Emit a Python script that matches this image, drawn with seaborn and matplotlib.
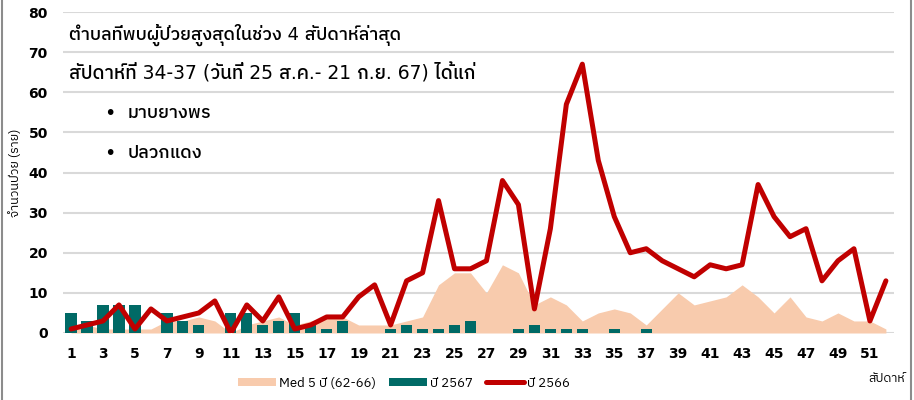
import numpy as np
import matplotlib
matplotlib.use("Agg")
import matplotlib.pyplot as plt
import seaborn as sns
from matplotlib import font_manager as fm
from matplotlib.ft2font import FT2Font
from matplotlib.patches import Patch
from matplotlib.lines import Line2D

# weekly data
weeks = list(range(1, 53))
med_5y = [1, 2, 1, 1, 1, 1, 3, 3, 4, 3, 0, 2, 3, 4, 2, 3, 4, 4, 2, 2,
          2, 3, 4, 12, 15, 15, 10, 17, 15, 7, 9, 7, 3, 5, 6, 5, 2, 6, 10, 7,
          8, 9, 12, 9, 5, 9, 4, 3, 5, 3, 3, 1]
weeks_2567 = list(range(1, 38))
cases_2567 = [5, 3, 7, 7, 7, 0, 5, 3, 2, 0, 5, 5, 2, 3, 5, 2, 1, 3, 0, 0,
              1, 2, 1, 1, 2, 3, 0, 0, 1, 2, 1, 1, 1, 0, 1, 0, 1]
cases_2566 = [1, 2, 3, 7, 1, 6, 3, 4, 5, 8, 0, 7, 3, 9, 1, 2, 4, 4, 9, 12,
              2, 13, 15, 33, 16, 16, 18, 38, 32, 6, 26, 57, 67, 43, 29, 20, 21, 18, 16, 14,
              17, 16, 17, 37, 29, 24, 26, 13, 18, 21, 3, 13]
xtick_weeks = list(range(1, 53, 2))

title_lines = ["ตำบลที่พบผู้ป่วยสูงสุดในช่วง 4 สัปดาห์ล่าสุด",
               "สัปดาห์ที่ 34-37 (วันที่ 25 ส.ค.- 21 ก.ย. 67) ได้แก่"]
places = ["มาบยางพร", "ปลวกแดง"]

PEACH = "#F8CBAD"
TEAL = "#006A66"
RED = "#C00000"


def find_thai_font():
    seen = set()
    found = []
    for f in fm.fontManager.ttflist:
        if f.fname in seen:
            continue
        seen.add(f.fname)
        try:
            cmap = FT2Font(f.fname).get_charmap()
        except Exception:
            continue
        if 0x0E01 in cmap:
            found.append(f.name)
    for name in found:
        if "Thai" in name and "Looped" not in name:
            return name
    return found[0] if found else None


sns.set_style("white")
thai = find_thai_font()
thai_fams = ([thai] if thai else []) + ["DejaVu Sans"]
mixed_fams = ["DejaVu Sans"] + ([thai] if thai else [])
plt.rcParams["font.family"] = thai_fams
plt.rcParams["text.color"] = "black"
plt.rcParams["axes.labelcolor"] = "black"
plt.rcParams["xtick.color"] = "black"
plt.rcParams["ytick.color"] = "black"

fig, ax = plt.subplots(figsize=(9.14, 4.0), dpi=100)
fig.subplots_adjust(left=0.069, right=0.978, top=0.97, bottom=0.1675)

ax.fill_between(weeks, med_5y, color=PEACH, lw=0, zorder=1)
sns.barplot(x=weeks_2567, y=cases_2567, native_scale=True, width=0.7,
            color=TEAL, saturation=1, linewidth=0, ax=ax, zorder=2)
sns.lineplot(x=weeks, y=cases_2566, color=RED, lw=3.6, ax=ax, zorder=3)

ax.set_xlim(0.5, 52.5)
ax.set_ylim(0, 80)
ax.set_yticks(range(0, 81, 10))
ax.set_xticks(xtick_weeks)
ax.set_xticklabels([str(w) for w in xtick_weeks])
ax.grid(axis="y", color="#d9d9d9", lw=1.5, zorder=0)
ax.set_axisbelow(True)
for s in ax.spines.values():
    s.set_visible(False)
ax.tick_params(length=0, labelsize=10)
ax.tick_params(axis="y", pad=11)
ax.tick_params(axis="x", pad=10)
for lab in ax.get_xticklabels() + ax.get_yticklabels():
    lab.set_fontweight("bold")
    lab.set_family("DejaVu Sans")
ax.set_xlabel("")
ax.set_ylabel("จำนวนป่วย (ราย)", fontsize=9)
ax.yaxis.set_label_coords(-0.05, 0.5)

# annotation text in the plot
ax.text(0.007, 0.93, title_lines[0], transform=ax.transAxes, fontsize=13,
        va="center", ha="left", family=mixed_fams, fontweight="medium")
ax.text(0.007, 0.81, title_lines[1], transform=ax.transAxes, fontsize=13.5,
        va="center", ha="left", family=mixed_fams, fontweight="medium")
for i, p in enumerate(places):
    y = 0.685 - i * 0.125
    ax.text(0.05, y, "\u2022", transform=ax.transAxes, fontsize=14,
            va="center", ha="left", family="DejaVu Sans")
    ax.text(0.078, y, p, transform=ax.transAxes, fontsize=13,
            va="center", ha="left", fontweight="medium")

fig.text(0.99, 0.055, "สัปดาห์", fontsize=9, ha="right", va="center")

handles = [Patch(color=PEACH, lw=0), Patch(color=TEAL, lw=0),
           Line2D([], [], color=RED, lw=3.6)]
labels = ["Med 5 ปี (62-66)", "ปี 2567", "ปี 2566"]
fig.legend(handles, labels, loc="center", bbox_to_anchor=(0.442, 0.042),
           ncol=3, frameon=False, handlelength=2.9,
           handleheight=0.65, handletextpad=0.2, columnspacing=1.0,
           prop={"family": thai_fams, "size": 9.5})

# chart border at the sides
fig.add_artist(Line2D([0.002, 0.002], [0, 1], color="#8c8c8c", lw=1.5,
                      transform=fig.transFigure))
fig.add_artist(Line2D([0.997, 0.997], [0, 1], color="#8c8c8c", lw=1.5,
                      transform=fig.transFigure))

fig.savefig("out.png", dpi=100)
